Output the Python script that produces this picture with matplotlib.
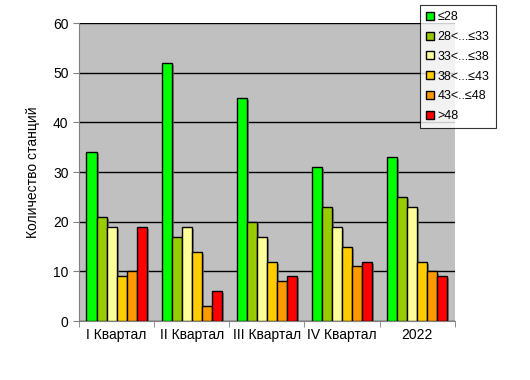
import matplotlib.pyplot as plt
import matplotlib.patheffects as pe
import numpy as np

plt.rcParams['font.family'] = ['Liberation Sans', 'DejaVu Sans']

categories = ['I Квартал', 'II Квартал', 'III Квартал', 'IV Квартал', '2022']
series_labels = ['≤28', '28<...≤33', '33<...≤38', '38<...≤43', '43<..≤48', '>48']
series_values = [
    [34, 52, 45, 31, 33],
    [21, 17, 20, 23, 25],
    [19, 19, 17, 19, 23],
    [9, 14, 12, 15, 12],
    [10, 3, 8, 11, 10],
    [19, 6, 9, 12, 9],
]
colors = ['#00FF00', '#99CC00', '#FFFF99', '#FFCC00', '#FF9900', '#FF0000']

fig = plt.figure(figsize=(5.3, 3.8), dpi=100)
ax = fig.add_axes([0.149, 0.155, 0.709, 0.784])
ax.set_facecolor('#C0C0C0')

x = np.arange(len(categories))
n = len(series_values)
w = 0.8 / n
shadow = [pe.SimplePatchShadow(offset=(1.5, -1.5), shadow_rgbFace='#707070', alpha=0.8), pe.Normal()]
for i, (vals, col, lab) in enumerate(zip(series_values, colors, series_labels)):
    ax.bar(x - 0.4 + w * (i + 0.5), vals, width=w, color=col, edgecolor='black',
           linewidth=1.0, label=lab, zorder=3, path_effects=shadow)

ax.set_xlim(-0.5, len(categories) - 0.5)
ax.set_ylim(0, 60)
ax.set_yticks(range(0, 61, 10))
ax.yaxis.grid(True, color='black', linewidth=1.0, zorder=1)
ax.set_axisbelow(True)

ax.set_xticks(x)
ax.set_xticklabels(categories, fontsize=10)
ax.set_xticks(np.arange(-0.5, len(categories)), minor=True)
ax.tick_params(axis='x', which='major', length=0, pad=5)
ax.tick_params(axis='x', which='minor', length=4, direction='out', color='#808080')
ax.tick_params(axis='y', length=4, direction='out', color='#808080', labelsize=10)

for s in ['top', 'right']:
    ax.spines[s].set_visible(False)
for s in ['left', 'bottom']:
    ax.spines[s].set_color('#808080')

ax.set_ylabel('Количество станций', fontsize=10)
ax.yaxis.set_label_coords(-0.104, 0.5)

leg = fig.legend(loc='upper left', bbox_to_anchor=(420 / 530, 1 - 5 / 380),
                 fontsize=9, frameon=True, fancybox=False, edgecolor='black',
                 handlelength=0.6, handleheight=0.6, handletextpad=0.3,
                 labelspacing=0.62, borderpad=0.5, borderaxespad=0)
leg.get_frame().set_linewidth(0.8)
for h in leg.legend_handles:
    h.set_path_effects([])

fig.savefig('out.png', dpi=100)
